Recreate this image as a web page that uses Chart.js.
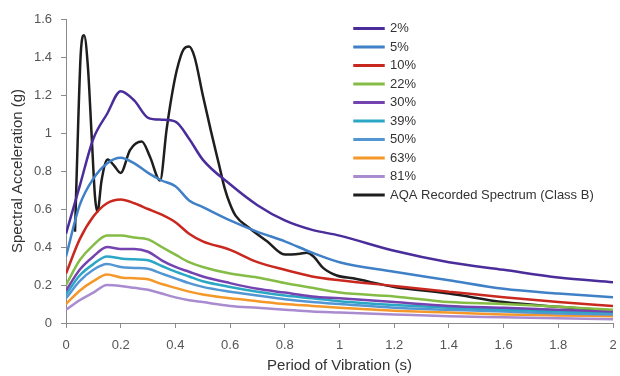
<!DOCTYPE html>
<html>
<head>
<meta charset="utf-8">
<script src="https://cdn.jsdelivr.net/npm/chart.js@4.4.1/dist/chart.umd.min.js"></script>
<style>
  html, body { margin: 0; padding: 0; background: #fff; }
  #wrap { width: 620px; height: 376px; position: relative; }
</style>
</head>
<body>
<div id="wrap"><canvas id="spectrum"></canvas></div>
<script>
// DATA
const periods = [0, 0.05, 0.1, 0.15, 0.2, 0.25, 0.3, 0.35, 0.4, 0.45, 0.5, 0.6, 0.7, 0.8, 0.9, 1.0, 1.2, 1.4, 1.6, 1.8, 2.0];

const seriesNames = ["2%", "5%", "10%", "22%", "30%", "39%", "50%", "63%", "81%"];
const p2  = [0.47, 0.72, 0.97, 1.10, 1.22, 1.17, 1.08, 1.07, 1.06, 0.97, 0.86, 0.73, 0.62, 0.54, 0.49, 0.46, 0.38, 0.32, 0.28, 0.24, 0.215];
const p5  = [0.35, 0.62, 0.76, 0.84, 0.87, 0.84, 0.79, 0.75, 0.72, 0.645, 0.61, 0.54, 0.48, 0.43, 0.37, 0.32, 0.27, 0.225, 0.18, 0.155, 0.135];
const p10 = [0.26, 0.44, 0.56, 0.63, 0.65, 0.63, 0.60, 0.57, 0.53, 0.47, 0.43, 0.385, 0.32, 0.28, 0.245, 0.225, 0.195, 0.165, 0.135, 0.11, 0.09];
const p22 = [0.20, 0.33, 0.41, 0.46, 0.46, 0.45, 0.44, 0.40, 0.36, 0.32, 0.295, 0.26, 0.24, 0.21, 0.185, 0.16, 0.14, 0.11, 0.10, 0.085, 0.07];
const p30 = [0.17, 0.28, 0.35, 0.40, 0.39, 0.39, 0.375, 0.33, 0.295, 0.27, 0.245, 0.21, 0.18, 0.16, 0.14, 0.13, 0.11, 0.09, 0.08, 0.07, 0.06];
const p39 = [0.15, 0.25, 0.31, 0.35, 0.34, 0.335, 0.33, 0.30, 0.27, 0.245, 0.22, 0.19, 0.165, 0.145, 0.13, 0.115, 0.095, 0.08, 0.07, 0.06, 0.055];
const p50 = [0.13, 0.22, 0.28, 0.31, 0.295, 0.29, 0.285, 0.26, 0.235, 0.21, 0.19, 0.165, 0.145, 0.125, 0.11, 0.10, 0.08, 0.07, 0.06, 0.05, 0.045];
const p63 = [0.10, 0.17, 0.22, 0.255, 0.24, 0.235, 0.23, 0.205, 0.185, 0.165, 0.15, 0.13, 0.115, 0.10, 0.09, 0.08, 0.065, 0.055, 0.045, 0.04, 0.035];
const p81 = [0.07, 0.12, 0.16, 0.20, 0.195, 0.185, 0.175, 0.155, 0.135, 0.12, 0.11, 0.09, 0.08, 0.07, 0.06, 0.055, 0.045, 0.035, 0.03, 0.025, 0.02];
const seriesValues = [p2, p5, p10, p22, p30, p39, p50, p63, p81];
const seriesColors = ["#4a2c9b", "#3f80c6", "#c9281f", "#84bc45", "#7443b0", "#2ba7c5", "#5297d4", "#f5982a", "#a98bd0"];

// RECORDED SPECTRUM (own period points)
const aqaName = "AQA Recorded Spectrum (Class B)";
const aqaPeriods = [0.033, 0.045, 0.054, 0.066, 0.08, 0.094, 0.106, 0.115, 0.13, 0.152, 0.175, 0.2, 0.234, 0.277, 0.307, 0.344, 0.368, 0.386, 0.405, 0.43, 0.45, 0.47, 0.5, 0.53, 0.56, 0.58, 0.6, 0.62, 0.67, 0.735, 0.8, 0.855, 0.88, 0.905, 0.94, 0.99, 1.05, 1.2, 1.4, 1.6, 1.8, 2.0];
const aqaValues  = [0.48, 1.07, 1.42, 1.515, 1.35, 0.98, 0.665, 0.585, 0.75, 0.86, 0.83, 0.79, 0.91, 0.955, 0.875, 0.75, 1.02, 1.19, 1.33, 1.44, 1.455, 1.40, 1.20, 1.01, 0.83, 0.71, 0.625, 0.565, 0.50, 0.43, 0.36, 0.365, 0.37, 0.35, 0.29, 0.25, 0.235, 0.19, 0.155, 0.11, 0.085, 0.065];

// TICK LABELS
const xTickLabels = ["0", "0.2", "0.4", "0.6", "0.8", "1", "1.2", "1.4", "1.6", "1.8", "2"];
const yTickLabels = ["0", "0.2", "0.4", "0.6", "0.8", "1", "1.2", "1.4", "1.6"];

// BUILD DATASETS
const datasets = seriesNames.map((name, i) => ({
  label: name,
  data: periods.map((t, j) => ({ x: t, y: seriesValues[i][j] })),
  borderColor: seriesColors[i],
  backgroundColor: seriesColors[i],
  borderWidth: 2.5,
  pointRadius: 0,
  cubicInterpolationMode: 'monotone'
}));
datasets.push({
  label: aqaName,
  data: aqaPeriods.map((t, j) => ({ x: t, y: aqaValues[j] })),
  borderColor: "#1e1e1e",
  backgroundColor: "#1e1e1e",
  borderWidth: 2.5,
  pointRadius: 0,
  cubicInterpolationMode: 'monotone'
});

// PUT THE LEGEND IN THE TOP RIGHT OF THE PLOT
const legendSpot = {
  id: 'legendSpot',
  afterUpdate(chart) {
    const lg = chart.legend;
    lg.left = 349;
    lg.top = 16.5;
    lg.right = 620;
    lg.bottom = 376;
  }
};

const axisColor = '#8a8a8a';
const ctx = document.getElementById('spectrum').getContext('2d');
new Chart(ctx, {
  type: 'line',
  data: { datasets: datasets },
  plugins: [legendSpot],
  options: {
    responsive: true,
    maintainAspectRatio: false,
    animation: false,
    layout: { padding: { left: 0, right: 0, top: 19, bottom: 0 } },
    plugins: {
      tooltip: { enabled: false },
      legend: {
        position: 'chartArea',
        align: 'start',
        labels: {
          boxWidth: 29,
          boxHeight: 0.5,
          padding: 5.5,
          color: '#333',
          font: { family: 'Liberation Sans', size: 13 }
        }
      }
    },
    scales: {
      x: {
        type: 'linear',
        min: 0,
        max: 2,
        afterFit: s => { s.height = 53; s.paddingRight = 7; s.paddingLeft = 0; },
        border: { color: axisColor, width: 1 },
        grid: { drawOnChartArea: false, drawTicks: true, tickLength: 5, color: axisColor },
        ticks: {
          stepSize: 0.2,
          padding: 10,
          maxRotation: 0,
          color: '#555',
          font: { family: 'Liberation Sans', size: 13 },
          callback: (v, i) => xTickLabels[i]
        },
        title: {
          display: true,
          text: 'Period of Vibration (s)',
          color: '#333',
          padding: { top: 0, bottom: 1 },
          font: { family: 'Liberation Sans', size: 15 }
        }
      },
      y: {
        min: 0,
        max: 1.6,
        afterFit: s => { s.width = 66; },
        border: { color: axisColor, width: 1 },
        grid: { drawOnChartArea: false, drawTicks: true, tickLength: 5, color: axisColor },
        ticks: {
          stepSize: 0.2,
          padding: 9,
          color: '#555',
          font: { family: 'Liberation Sans', size: 13 },
          callback: (v, i) => yTickLabels[i]
        },
        title: {
          display: true,
          text: 'Spectral Acceleration (g)',
          color: '#333',
          padding: { top: 9, bottom: 0 },
          font: { family: 'Liberation Sans', size: 15 }
        }
      }
    }
  }
});
</script>
</body>
</html>
